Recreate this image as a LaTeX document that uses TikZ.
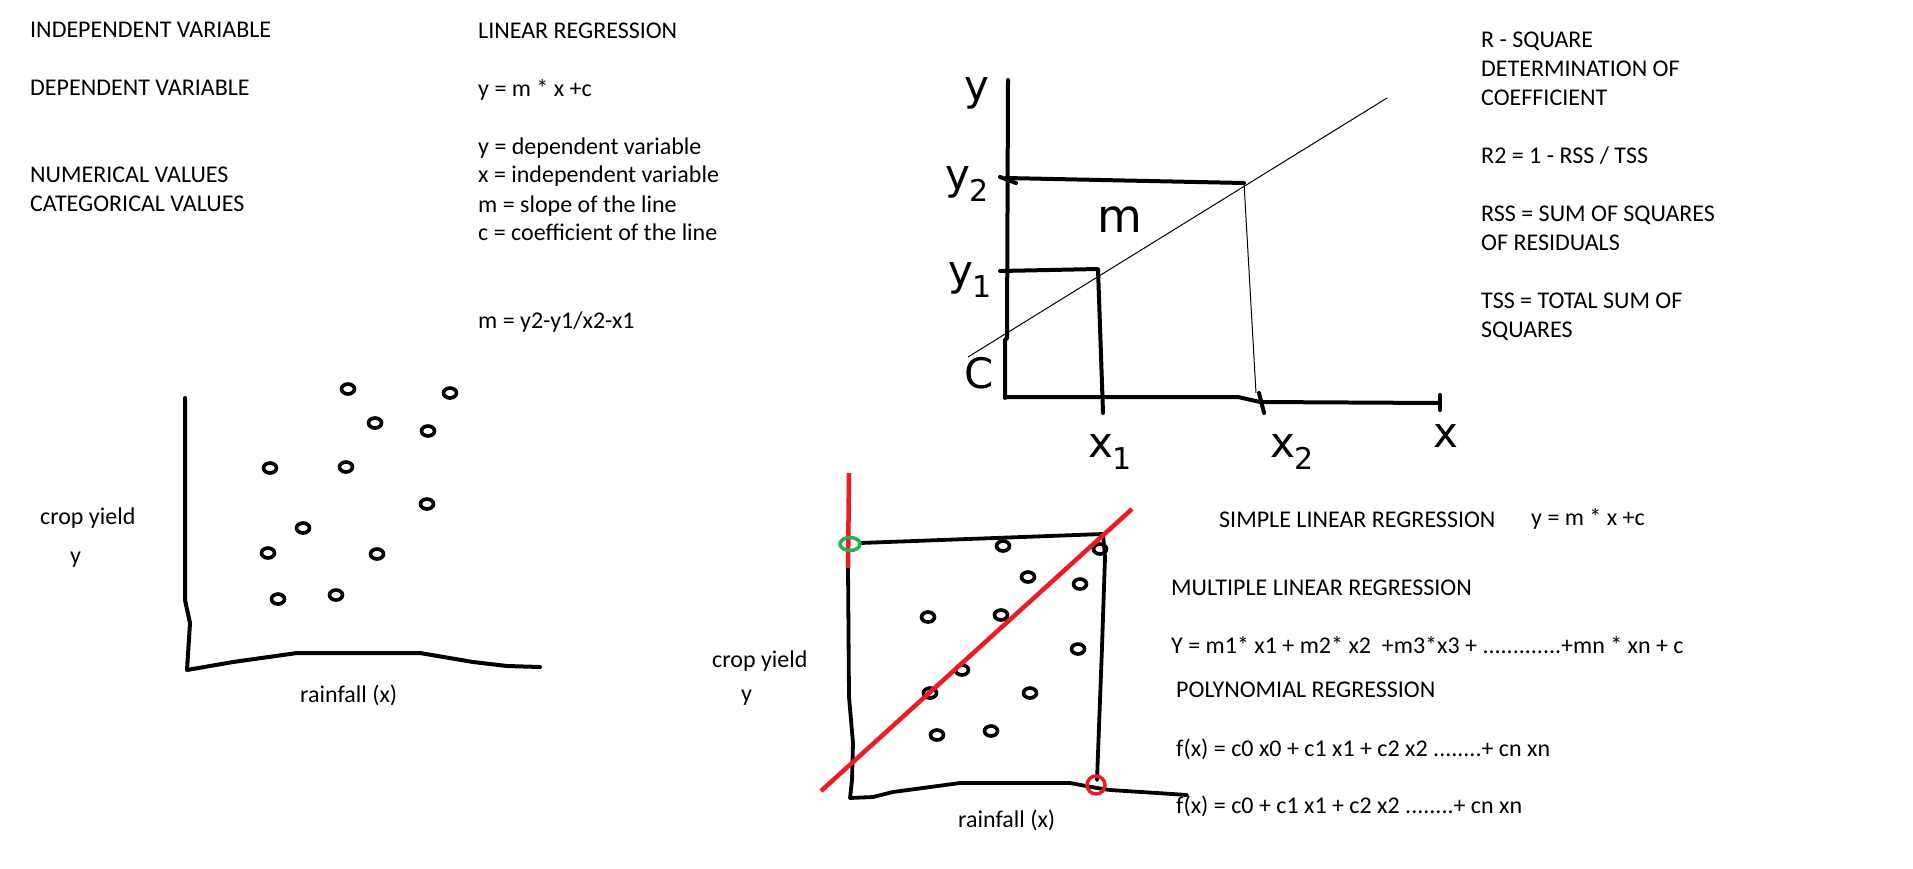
\documentclass[tikz,border=0pt]{standalone}
\usepackage{fontspec}
\setmainfont{Carlito}
\newfontfamily\handf{DejaVu Sans}
\newcommand\hsub[1]{\raisebox{-12pt}{\fontsize{30}{32}\selectfont #1}}
\definecolor{paintred}{RGB}{237,28,36}
\definecolor{paintgreen}{RGB}{34,177,76}
\begin{document}
\begin{tikzpicture}[x=1pt,y=-1pt,
  txt/.style={anchor=base west, inner sep=0pt, font=\fontsize{24}{28}\selectfont},
  hand/.style={inner sep=0pt, font=\handf\fontsize{42}{46}\selectfont},
  blk/.style={line width=4pt, line cap=round, line join=round},
  blkthin/.style={line width=3.8pt, line cap=round, line join=round},
  hair/.style={line width=1pt},
  dot/.style={line width=3.6pt},
  redl/.style={draw=paintred, line width=4.5pt},
]
\fill[white] (0,0) rectangle (1913,868);
\useasboundingbox (0,0) rectangle (1913,868);

% ---------- top-left texts ----------
\node[txt] (iv) at (30,37) {INDEPENDENT VARIABLE};
\node[txt] (dv) at (30,95) {DEPENDENT VARIABLE};
\node[txt] (nv) at (30,182) {NUMERICAL VALUES};
\node[txt] (cv) at (30,211) {CATEGORICAL VALUES};
\node[txt] (lr) at (478,38) {LINEAR REGRESSION};
\node[txt] (eq1) at (478,96) {y = m * x +c};
\node[txt] (d1) at (478,154) {y = dependent variable};
\node[txt] (d2) at (478,182) {x = independent variable};
\node[txt] (d3) at (478,212) {m = slope of the line};
\node[txt] (d4) at (478,240) {c = coefficient of the line};
\node[txt] (slope) at (478,328) {m = y2-y1/x2-x1};

% ---------- top-right texts ----------
\node[txt] (r1) at (1481,47) {R - SQUARE};
\node[txt] (r2) at (1481,76) {DETERMINATION OF};
\node[txt] (r3) at (1481,105) {COEFFICIENT};
\node[txt] (r4) at (1481,163) {R2 = 1 - RSS / TSS};
\node[txt] (r5) at (1481,221) {RSS = SUM OF SQUARES};
\node[txt] (r6) at (1481,250) {OF RESIDUALS};
\node[txt] (r7) at (1481,308) {TSS = TOTAL SUM OF};
\node[txt] (r8) at (1481,337) {SQUARES};

% ---------- bottom-right texts ----------
\node[txt] (slr) at (1219,527) {SIMPLE LINEAR REGRESSION};
\node[txt] (eq2) at (1531,525) {y = m * x +c};
\node[txt] (mlr) at (1171,595) {MULTIPLE LINEAR REGRESSION};
\node[txt] (eq3) at (1171,653) {Y = m1* x1 + m2* x2 \ +m3*x3 + .............+mn * xn + c};
\node[txt] (pr) at (1176,697) {POLYNOMIAL REGRESSION};
\node[txt] (eq4) at (1176,756) {f(x) = c0 x0 + c1 x1 + c2 x2 ........+ cn xn};
\node[txt] (eq5) at (1176,813) {f(x) = c0 + c1 x1 + c2 x2 ........+ cn xn};

% ---------- graph: slope sketch ----------
\draw[blk] (1008,80) -- (1007,338) -- (1005,340) -- (1005,398);
\draw[blk] (1005,397) -- (1238,397) -- (1260,402) -- (1440,403);
\draw[blk] (1440,395) -- (1440,410);
\draw[blk] (1000,177) -- (1016,183);
\draw[blk] (1006,178) -- (1244,183);
\draw[hair] (1244,183) -- (1256,393);
\draw[blk] (1000,271) -- (1098,269) -- (1103,413);
\draw[blk] (1259,393) -- (1264,413);
\draw[hair] (968,357) -- (1387,98);
\node[hand] (ly) at (977,93) {y};
\node[hand] (ly2) at (967,184) {y\hsub{2}};
\node[hand, font=\handf\fontsize{46}{50}\selectfont] (lm) at (1120,220) {m};
\node[hand] (ly1) at (970,280) {y\hsub{1}};
\node[hand, font=\handf\fontsize{42}{46}\selectfont] (lc) at (979,373) {C};
\node[hand] (lx1) at (1110,452) {x\hsub{1}};
\node[hand] (lx2) at (1292,452) {x\hsub{2}};
\node[hand] (lx) at (1446,436) {x};

% ---------- graph: scatter 1 ----------
\draw[blk] (185,398) -- (185,557) -- (185,600) -- (190,623) -- (187,670)
  -- (233,662) -- (297,653) -- (303,653) -- (420,653) -- (473,662) -- (507,666) -- (540,667);
\foreach \p in {(348,389),(450,393),(375,423),(428,431),(270,468),(346,467),(427,504),(303,528),(268,553),(377,554),(278,599),(336,595)}
  \draw[dot] \p ellipse (6.5 and 5);
\node[txt] (cy1) at (40,524) {crop yield};
\node[txt] (y1) at (70,563) {y};
\node[txt] (rf1) at (300,702) {rainfall (x)};

% ---------- graph: scatter 2 with fit ----------
\draw[blkthin] (860,543) -- (1103,534) -- (1105,557) -- (1102,647) -- (1097,780);
\draw[blkthin] (848,568) -- (849,697) -- (853,743) -- (852,780) -- (850,798)
  -- (873,797) -- (893,792) -- (960,783) -- (1070,783) -- (1097,788) -- (1110,790) -- (1157,793) -- (1187,795);
\foreach \p in {(1003,546),(1100,549),(1028,577),(1080,584),(928,617),(1001,615),(1078,649),(962,670),(930,693),(1030,693),(937,735),(991,731)}
  \draw[dot] \p ellipse (6.5 and 5);
\draw[redl] (849,473) -- (848,568);
\draw[redl] (821,791) -- (1132,509);
\draw[draw=paintgreen, line width=3.5pt] (850,544) ellipse (10 and 6.5);
\draw[draw=paintred, line width=3.5pt] (1096,785) circle (9);
\node[txt] (cy2) at (712,667) {crop yield};
\node[txt] (y2) at (741,701) {y};
\node[txt] (rf2) at (958,827) {rainfall (x)};
\end{tikzpicture}
\end{document}
